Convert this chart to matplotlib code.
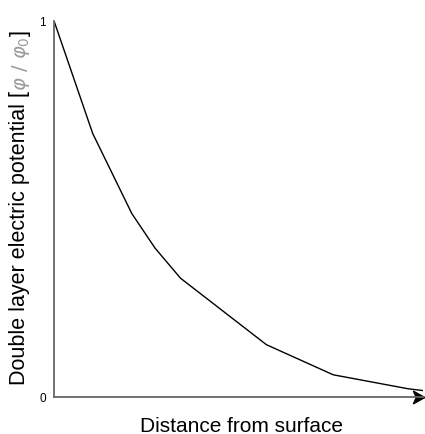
import matplotlib
matplotlib.use('Agg')
import matplotlib.pyplot as plt
from matplotlib.path import Path

plt.rcParams['font.family'] = ['Liberation Sans', 'DejaVu Sans']
plt.rcParams['mathtext.fontset'] = 'dejavusans'

# decay of the double layer potential with distance (normalised units)
distance = [0.0, 0.105, 0.211, 0.274, 0.343, 0.576, 0.757, 0.959, 1.0]
potential = [1.0, 0.70, 0.487, 0.395, 0.315, 0.138, 0.058, 0.021, 0.016]

SPINE_COLOR = '#666666'
UNIT_COLOR = '#9a9a9a'
YLABEL_SIZE = 15.5

fig = plt.figure(figsize=(4.25, 4.35), dpi=100)
ax = fig.add_axes([0.127, 0.086, 0.868, 0.864])

ax.plot(distance, potential, color='black', linewidth=1.0)

ax.set_xlim(0, 1)
ax.set_ylim(0, 1)
ax.spines['top'].set_visible(False)
ax.spines['right'].set_visible(False)
for side in ['left', 'bottom']:
    ax.spines[side].set_color(SPINE_COLOR)
    ax.spines[side].set_linewidth(1.3)

ax.set_xticks([])
ax.set_yticks([0, 1])
ax.set_yticklabels(['0', '1'], fontsize=8.5)
ax.tick_params(axis='y', length=0, pad=6)

# stealth style arrow head at the end of the distance axis
head = Path([(-0.8, 1), (1, 0), (-0.8, -1), (-0.35, 0), (-0.8, 1)],
            [Path.MOVETO, Path.LINETO, Path.LINETO, Path.LINETO, Path.CLOSEPOLY])
ax.plot(0.987, 0, marker=head, color='black', markersize=9,
        transform=ax.get_yaxis_transform(), clip_on=False)

fig.text(241.5 / 425, 2.5 / 435, 'Distance from surface', fontsize=15,
         ha='center', va='baseline')

# y label built from pieces so the unit can be grey
x_lab = 20 / 425
t1 = fig.text(x_lab, 50 / 435, 'Double layer electric potential [',
              rotation=90, fontsize=YLABEL_SIZE, ha='center', va='bottom')
fig.canvas.draw()
r = fig.canvas.get_renderer()
bb = t1.get_window_extent(r)
t2 = fig.text(x_lab + 1 / 425, bb.y1 / fig.bbox.height, r'$\varphi\ /\ \varphi_0$',
              rotation=90, fontsize=14, ha='center', va='bottom', color=UNIT_COLOR)
fig.canvas.draw()
bb2 = t2.get_window_extent(r)
t3 = fig.text(x_lab, bb2.y1 / fig.bbox.height, ']',
              rotation=90, fontsize=YLABEL_SIZE, ha='center', va='bottom')

plt.savefig('out.png', dpi=100)
